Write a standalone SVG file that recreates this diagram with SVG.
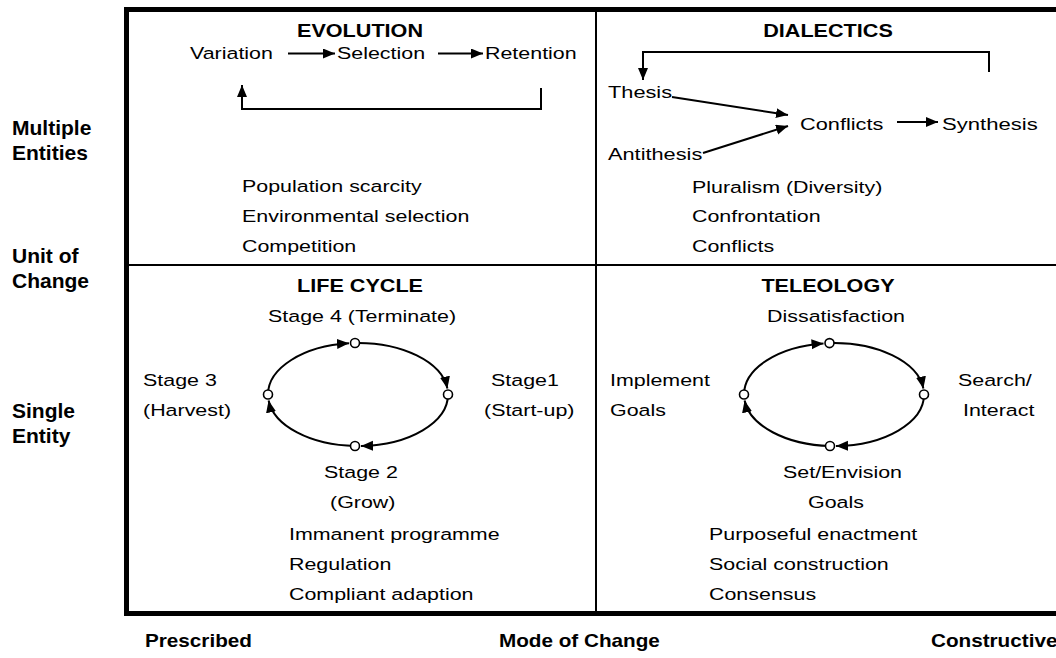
<svg xmlns="http://www.w3.org/2000/svg" width="1056" height="658" viewBox="0 0 1056 658">
  <style>
    text { font-family: "Liberation Sans", Arial, Helvetica, sans-serif; fill: #000; }
    .b { font-size: 17px; }
    .h { font-size: 18px; font-weight: bold; }
    .ax { font-size: 21px; font-weight: bold; }
    .ax2 { font-size: 18px; font-weight: bold; }
    .frame { fill: none; stroke: #000; stroke-width: 5; }
    .grid { fill: none; stroke: #000; stroke-width: 2; }
    .line { fill: none; stroke: #000; stroke-width: 2; }
    .cyc { fill: none; stroke: #000; stroke-width: 2; }
    .node { fill: #fff; stroke: #000; stroke-width: 1.6; }
  </style>
  <defs>
    <marker id="arr" markerUnits="userSpaceOnUse" markerWidth="14" markerHeight="12" refX="12" refY="5" orient="auto">
      <path d="M0,0 L12,5 L0,10 Z" fill="#000"/>
    </marker>
    <marker id="arrS" markerUnits="userSpaceOnUse" markerWidth="14" markerHeight="12" refX="12" refY="5" orient="auto">
      <path d="M0,0 L12,5 L0,10 Z" fill="#000"/>
    </marker>
  </defs>

  <rect width="1056" height="658" fill="#fff"/>

  <!-- matrix frame -->
  <g id="frame">
    <path class="frame" d="M1060,9.5 H126.5 V613.5 H1060"/>
    <path class="grid" d="M596,9.5 V613.5 M126.5,265 H1060"/>
  </g>

  <!-- axis labels -->
  <g id="axis-unit">
    <text class="ax" x="12" y="135">Multiple</text>
    <text class="ax" x="12" y="160">Entities</text>
    <text class="ax" x="12" y="263">Unit of</text>
    <text class="ax" x="12" y="288">Change</text>
    <text class="ax" x="12" y="418">Single</text>
    <text class="ax" x="12" y="443">Entity</text>
  </g>
  <g id="axis-mode">
    <text class="ax2" transform="translate(145 647) scale(1.15 1)">Prescribed</text>
    <text class="ax2" transform="translate(499 647) scale(1.15 1)">Mode of Change</text>
    <text class="ax2" transform="translate(931 647) scale(1.15 1)">Constructive</text>
  </g>

  <!-- EVOLUTION -->
  <g id="evolution">
    <text class="h" text-anchor="middle" transform="translate(360 37) scale(1.2 1)">EVOLUTION</text>
    <g id="variation"><text class="b" transform="translate(190 59) scale(1.26 1)">Variation</text></g>
    <g id="selection"><text class="b" transform="translate(337 59) scale(1.26 1)">Selection</text></g>
    <g id="retention"><text class="b" transform="translate(485 59) scale(1.26 1)">Retention</text></g>
    <text class="b" transform="translate(242 192) scale(1.26 1)">Population scarcity</text>
    <text class="b" transform="translate(242 222) scale(1.26 1)">Environmental selection</text>
    <text class="b" transform="translate(242 252) scale(1.26 1)">Competition</text>
  </g>

  <!-- DIALECTICS -->
  <g id="dialectics">
    <text class="h" text-anchor="middle" transform="translate(828 37) scale(1.2 1)">DIALECTICS</text>
    <g id="thesis"><text class="b" transform="translate(608 98) scale(1.28 1)">Thesis</text></g>
    <g id="antithesis"><text class="b" transform="translate(608 160) scale(1.28 1)">Antithesis</text></g>
    <g id="conflicts"><text class="b" transform="translate(800 130) scale(1.28 1)">Conflicts</text></g>
    <g id="synthesis"><text class="b" transform="translate(942 130) scale(1.3 1)">Synthesis</text></g>
    <text class="b" transform="translate(692 193) scale(1.26 1)">Pluralism (Diversity)</text>
    <text class="b" transform="translate(692 222) scale(1.26 1)">Confrontation</text>
    <text class="b" transform="translate(692 252) scale(1.26 1)">Conflicts</text>
  </g>

  <!-- LIFE CYCLE -->
  <g id="life-cycle">
    <text class="h" text-anchor="middle" transform="translate(360 292) scale(1.2 1)">LIFE CYCLE</text>
    <g id="stage4"><text class="b" transform="translate(268 322) scale(1.26 1)">Stage 4 (Terminate)</text></g>
    <g id="stage1">
      <text class="b" transform="translate(491 386) scale(1.26 1)">Stage1</text>
      <text class="b" transform="translate(484 416) scale(1.26 1)">(Start-up)</text>
    </g>
    <g id="stage3">
      <text class="b" transform="translate(143 386) scale(1.26 1)">Stage 3</text>
      <text class="b" transform="translate(143 416) scale(1.26 1)">(Harvest)</text>
    </g>
    <g id="stage2">
      <text class="b" transform="translate(324 478) scale(1.26 1)">Stage 2</text>
      <text class="b" transform="translate(330 508) scale(1.26 1)">(Grow)</text>
    </g>
    <text class="b" transform="translate(289 540) scale(1.26 1)">Immanent programme</text>
    <text class="b" transform="translate(289 570) scale(1.26 1)">Regulation</text>
    <text class="b" transform="translate(289 600) scale(1.26 1)">Compliant adaption</text>
  </g>

  <!-- TELEOLOGY -->
  <g id="teleology">
    <text class="h" text-anchor="middle" transform="translate(828 292) scale(1.2 1)">TELEOLOGY</text>
    <g id="dissatisfaction"><text class="b" transform="translate(767 322) scale(1.26 1)">Dissatisfaction</text></g>
    <g id="search">
      <text class="b" transform="translate(958 386) scale(1.26 1)">Search/</text>
      <text class="b" transform="translate(963 416) scale(1.26 1)">Interact</text>
    </g>
    <g id="implement">
      <text class="b" transform="translate(610 386) scale(1.26 1)">Implement</text>
      <text class="b" transform="translate(610 416) scale(1.26 1)">Goals</text>
    </g>
    <g id="envision">
      <text class="b" transform="translate(783 478) scale(1.26 1)">Set/Envision</text>
      <text class="b" transform="translate(808 508) scale(1.26 1)">Goals</text>
    </g>
    <text class="b" transform="translate(709 540) scale(1.26 1)">Purposeful enactment</text>
    <text class="b" transform="translate(709 570) scale(1.26 1)">Social construction</text>
    <text class="b" transform="translate(709 600) scale(1.26 1)">Consensus</text>
  </g>

  <!-- connectors -->
  <g id="connectors">
    <!-- evolution chain and loop back -->
    <path class="line" d="M288,53.5 H335" marker-end="url(#arr)"/>
    <path class="line" d="M438,53.5 H483" marker-end="url(#arr)"/>
    <path class="line" d="M541,88 V109 H242 V85" marker-end="url(#arr)"/>
    <!-- dialectic convergence -->
    <path class="line" d="M989,72 V52 H643 V80" marker-end="url(#arr)"/>
    <path class="line" d="M672,97 L788,115" marker-end="url(#arr)"/>
    <path class="line" d="M703,153 L788,126" marker-end="url(#arr)"/>
    <path class="line" d="M897,122 H938" marker-end="url(#arr)"/>
    <!-- life cycle loop (clockwise) -->
    <path class="cyc" d="M268,394.5 A90,51.5 0 0 1 349,343.3" marker-end="url(#arrS)"/>
    <path class="cyc" d="M355,343 A90,51.5 0 0 1 447.4,388.5" marker-end="url(#arrS)"/>
    <path class="cyc" d="M448,394.5 A90,51.5 0 0 1 361,446" marker-end="url(#arrS)"/>
    <path class="cyc" d="M355,446 A90,51.5 0 0 1 268.6,400.5" marker-end="url(#arrS)"/>
    <!-- teleology loop (clockwise) -->
    <path class="cyc" d="M744,394.5 A90,51.5 0 0 1 823.5,343.4" marker-end="url(#arrS)"/>
    <path class="cyc" d="M829.5,343.1 A90,51.5 0 0 1 923.4,388.5" marker-end="url(#arrS)"/>
    <path class="cyc" d="M924,394.5 A90,51.5 0 0 1 836,446" marker-end="url(#arrS)"/>
    <path class="cyc" d="M830,446 A90,51.5 0 0 1 744.6,400.5" marker-end="url(#arrS)"/>
  </g>

  <!-- cycle stage markers -->
  <g id="cycle-points">
    <circle class="node" cx="355" cy="343" r="4.5"/>
    <circle class="node" cx="448" cy="394.5" r="4.5"/>
    <circle class="node" cx="355" cy="446" r="4.5"/>
    <circle class="node" cx="268" cy="394.5" r="4.5"/>
    <circle class="node" cx="829.5" cy="343.1" r="4.5"/>
    <circle class="node" cx="924" cy="394.5" r="4.5"/>
    <circle class="node" cx="830" cy="446" r="4.5"/>
    <circle class="node" cx="744" cy="394.5" r="4.5"/>
  </g>
</svg>
